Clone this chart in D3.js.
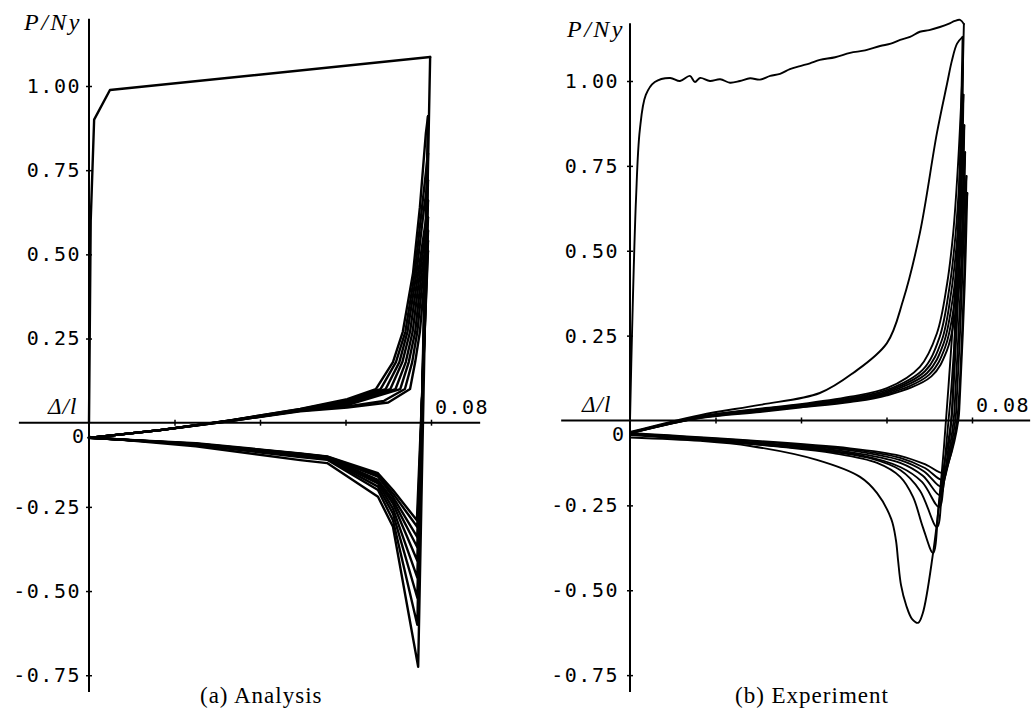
<!DOCTYPE html>
<html><head><meta charset="utf-8">
<script src="https://cdn.jsdelivr.net/npm/d3@7"></script>
<style>
html,body{margin:0;padding:0;background:#fff;}
svg{display:block;}
.tick text{font-family:"DejaVu Sans Mono",monospace;font-size:20px;letter-spacing:1.5px;fill:#000;}
</style></head>
<body>
<svg id="chart" width="1036" height="713"></svg>
<script>
// ---------- DATA ----------
const yTickValues = [1, 0.75, 0.5, 0.25, -0.25, -0.5, -0.75];
const xTickValues = [0.02, 0.04, 0.06, 0.08];
const xEndLabel = "0.08";
const panelTitles = ["(a) Analysis", "(b) Experiment"];

// Analysis: monotonic skeleton, compression branches (from tension peak down and back), tension reloads
const analysisSkeleton = [[0,0],[0.0004,0.6],[0.0012,0.9],[0.0049,0.988],[0.0798,1.086]];
const analysisCompression = [
  [[0.0798,1.086],[0.0770,-0.725],[0.0711,-0.309],[0.0676,-0.22],[0.0557,-0.12],[0.0494,-0.111],[0.025,-0.07],[0,-0.042]],
  [[0.0793,0.91],[0.0768,-0.60],[0.0711,-0.29],[0.0676,-0.20],[0.0557,-0.11],[0.0494,-0.102],[0.025,-0.066],[0,-0.043]],
  [[0.0793,0.80],[0.0768,-0.52],[0.0711,-0.27],[0.0676,-0.19],[0.0557,-0.108],[0.0494,-0.099],[0.025,-0.065],[0,-0.044]],
  [[0.0793,0.72],[0.0768,-0.46],[0.0711,-0.255],[0.0676,-0.18],[0.0557,-0.106],[0.0494,-0.097],[0.025,-0.064],[0,-0.044]],
  [[0.0793,0.66],[0.0768,-0.41],[0.0711,-0.24],[0.0676,-0.175],[0.0557,-0.104],[0.0494,-0.095],[0.025,-0.063],[0,-0.045]],
  [[0.0793,0.61],[0.0768,-0.37],[0.0711,-0.23],[0.0676,-0.17],[0.0557,-0.103],[0.0494,-0.094],[0.025,-0.063],[0,-0.045]],
  [[0.0793,0.57],[0.0768,-0.34],[0.0711,-0.22],[0.0676,-0.16],[0.0557,-0.102],[0.0494,-0.093],[0.025,-0.062],[0,-0.045]],
  [[0.0793,0.54],[0.0768,-0.31],[0.0711,-0.21],[0.0676,-0.155],[0.0557,-0.101],[0.0494,-0.092],[0.025,-0.062],[0,-0.045]],
  [[0.0793,0.51],[0.0767,-0.29],[0.0711,-0.20],[0.0676,-0.15],[0.0557,-0.10],[0.0494,-0.091],[0.025,-0.061],[0,-0.045]]
];
const analysisTension = [
  [[0,-0.045],[0.0166,-0.022],[0.033,0.007],[0.0494,0.041],[0.0604,0.070],[0.0671,0.10],[0.0711,0.18],[0.0734,0.27],[0.0758,0.445],[0.0774,0.64],[0.0788,0.86],[0.0793,0.91]],
  [[0,-0.045],[0.0166,-0.022],[0.033,0.007],[0.0494,0.040],[0.0604,0.066],[0.0682,0.10],[0.0718,0.18],[0.0740,0.27],[0.0762,0.445],[0.0779,0.64],[0.0793,0.80]],
  [[0,-0.045],[0.0166,-0.022],[0.033,0.006],[0.0494,0.039],[0.0604,0.063],[0.0694,0.10],[0.0726,0.18],[0.0745,0.27],[0.0766,0.445],[0.0784,0.64],[0.0793,0.72]],
  [[0,-0.045],[0.0166,-0.022],[0.033,0.006],[0.0494,0.038],[0.0604,0.060],[0.0705,0.10],[0.0733,0.18],[0.0751,0.27],[0.0770,0.445],[0.0789,0.61],[0.0793,0.66]],
  [[0,-0.045],[0.0166,-0.022],[0.033,0.006],[0.0494,0.037],[0.0604,0.056],[0.0717,0.10],[0.0741,0.18],[0.0757,0.27],[0.0774,0.445],[0.0793,0.61]],
  [[0,-0.045],[0.0166,-0.022],[0.033,0.005],[0.0494,0.036],[0.0604,0.052],[0.0728,0.10],[0.0748,0.18],[0.0763,0.27],[0.0778,0.445],[0.0793,0.57]],
  [[0,-0.045],[0.0166,-0.022],[0.033,0.005],[0.0494,0.035],[0.0604,0.048],[0.0690,0.065],[0.0739,0.10],[0.0756,0.18],[0.0768,0.27],[0.0782,0.445],[0.0793,0.54]],
  [[0,-0.045],[0.0166,-0.022],[0.033,0.005],[0.0494,0.034],[0.0604,0.045],[0.0700,0.060],[0.0751,0.10],[0.0763,0.18],[0.0774,0.27],[0.0786,0.445],[0.0793,0.51]]
];

// Experiment
const experimentSkeleton = [[0,0],[0.0005,0.27],[0.0014,0.65],[0.0023,0.856],[0.0037,0.959],[0.0058,0.997],[0.0094,1.009],[0.0117,1.0],[0.014,1.015],[0.0152,0.997],[0.0164,1.009],[0.0187,1.0],[0.0211,1.005],[0.0234,0.995],[0.0257,1.0],[0.0281,1.008],[0.0304,1.004],[0.0328,1.015],[0.0351,1.021],[0.0374,1.035],[0.0398,1.044],[0.0421,1.052],[0.0444,1.062],[0.048,1.07],[0.0515,1.083],[0.055,1.09],[0.0585,1.103],[0.061,1.11],[0.0632,1.121],[0.0655,1.13],[0.0678,1.145],[0.07,1.15],[0.0725,1.159],[0.0745,1.168],[0.076,1.177],[0.0772,1.18],[0.0781,1.168]];
const experimentCompression = [
  [[0.0781,1.168],[0.0772,0.7],[0.0762,0.35],[0.0751,0],[0.0732,-0.155],[0.0709,-0.39],[0.0685,-0.567],[0.0674,-0.596],[0.066,-0.585],[0.0646,-0.544],[0.0634,-0.485],[0.0627,-0.411],[0.0622,-0.352],[0.0611,-0.29],[0.0578,-0.214],[0.0538,-0.166],[0.0437,-0.116],[0.0281,-0.075],[0.0164,-0.06],[0,-0.05]],
  [[0.0778,1.13],[0.0765,0.5],[0.0745,0.1],[0.0733,-0.1],[0.0722,-0.25],[0.0709,-0.39],[0.0685,-0.314],[0.0662,-0.225],[0.0632,-0.166],[0.0578,-0.125],[0.0475,-0.096],[0.0358,-0.078],[0.0164,-0.057],[0,-0.043]],
  [[0.0779,1.06],[0.0770,0.5],[0.0752,0.1],[0.0745,0],[0.0730,-0.2],[0.0718,-0.314],[0.0678,-0.206],[0.0632,-0.146],[0.0561,-0.111],[0.0444,-0.087],[0.0281,-0.069],[0,-0.04]],
  [[0.0780,0.96],[0.0772,0.5],[0.0757,0.1],[0.0752,0],[0.0735,-0.17],[0.0723,-0.255],[0.0683,-0.181],[0.0632,-0.137],[0.0538,-0.102],[0.0398,-0.081],[0.02,-0.06],[0,-0.04]],
  [[0.0782,0.87],[0.0775,0.45],[0.0761,0.08],[0.0757,0],[0.0738,-0.15],[0.0725,-0.22],[0.0685,-0.163],[0.0632,-0.125],[0.0515,-0.093],[0.0358,-0.074],[0,-0.04]],
  [[0.0784,0.79],[0.0778,0.45],[0.0765,0.08],[0.0761,0],[0.0741,-0.14],[0.0728,-0.195],[0.0688,-0.15],[0.0632,-0.117],[0.0515,-0.088],[0.0358,-0.071],[0,-0.038]],
  [[0.0787,0.72],[0.0781,0.4],[0.0769,0.06],[0.0765,0],[0.0744,-0.13],[0.0731,-0.175],[0.069,-0.14],[0.0632,-0.11],[0.0515,-0.085],[0,-0.038]],
  [[0.0789,0.67],[0.0783,0.4],[0.0771,0.05],[0.0768,0],[0.0746,-0.12],[0.0734,-0.155],[0.0692,-0.13],[0.0632,-0.104],[0.0515,-0.082],[0,-0.037]]
];
const experimentTension = [
  [[0,-0.034],[0.0164,0.016],[0.0304,0.046],[0.0444,0.081],[0.0522,0.14],[0.0601,0.228],[0.0639,0.355],[0.0678,0.552],[0.0718,0.847],[0.0742,0.994],[0.0753,1.06],[0.0765,1.11],[0.0778,1.13]],
  [[0,-0.036],[0.0164,0.012],[0.0304,0.035],[0.0398,0.048],[0.0515,0.07],[0.0601,0.095],[0.0678,0.158],[0.0718,0.257],[0.0742,0.405],[0.0756,0.552],[0.0767,0.747],[0.0775,0.944],[0.0779,1.06]],
  [[0,-0.036],[0.0164,0.011],[0.0304,0.033],[0.0398,0.046],[0.0515,0.066],[0.0601,0.09],[0.0685,0.15],[0.0724,0.245],[0.0747,0.39],[0.0761,0.54],[0.0771,0.72],[0.0780,0.96]],
  [[0,-0.037],[0.0164,0.010],[0.0304,0.031],[0.0398,0.044],[0.0515,0.063],[0.0601,0.086],[0.0690,0.145],[0.0729,0.235],[0.0751,0.375],[0.0765,0.53],[0.0775,0.70],[0.0782,0.87]],
  [[0,-0.037],[0.0164,0.009],[0.0304,0.029],[0.0398,0.042],[0.0515,0.06],[0.0601,0.082],[0.0695,0.14],[0.0733,0.225],[0.0755,0.36],[0.0769,0.52],[0.0778,0.67],[0.0784,0.79]],
  [[0,-0.038],[0.0164,0.008],[0.0304,0.027],[0.0398,0.04],[0.0515,0.057],[0.0601,0.078],[0.0700,0.135],[0.0737,0.215],[0.0759,0.345],[0.0773,0.50],[0.0782,0.64],[0.0787,0.72]],
  [[0,-0.038],[0.0164,0.007],[0.0304,0.025],[0.0398,0.038],[0.0515,0.054],[0.0601,0.074],[0.0705,0.13],[0.0741,0.205],[0.0763,0.33],[0.0777,0.48],[0.0785,0.60],[0.0789,0.67]]
];

// ---------- DRAW ----------
const svg = d3.select("#chart");
const panels = [
  {xr:[89,431], yr:[422.7,86], yMin:-0.8, yMax:1.2, xMin:-0.0164, xMax:0.0915, sk:analysisSkeleton, comp:analysisCompression, ten:analysisTension,
   curve:d3.curveLinear, lw:2.4, title:panelTitles[0], titleX:200, pnX:24, pnY:30, dlX:48, zeroX:72, labEnd:-5},
  {xr:[630,972], yr:[420.5,81], yMin:-0.8, yMax:1.17, xMin:-0.0161, xMax:0.0936, sk:experimentSkeleton, comp:experimentCompression, ten:experimentTension,
   curve:d3.curveCatmullRom.alpha(0.5), lw:1.9, title:panelTitles[1], titleX:735, pnX:567, pnY:37, dlX:582, zeroX:612, labEnd:-8}
];

const fmt = d => d3.format(".2f")(d).replace("\u2212","-");

panels.forEach(p => {
  const x = d3.scaleLinear().domain([0,0.08]).range(p.xr);
  const y = d3.scaleLinear().domain([0,1]).range(p.yr);
  const g = svg.append("g");

  // axis lines
  g.append("line").attr("x1",x(0)).attr("x2",x(0)).attr("y1",y(p.yMax)).attr("y2",y(p.yMin))
    .attr("stroke","#000").attr("stroke-width",2);
  g.append("line").attr("x1",x(p.xMin)).attr("x2",x(p.xMax)).attr("y1",y(0)).attr("y2",y(0))
    .attr("stroke","#000").attr("stroke-width",2);

  // y ticks with labels
  const ay = g.append("g").attr("transform",`translate(${x(0)},0)`)
    .call(d3.axisLeft(y).tickValues(yTickValues).tickSize(3).tickPadding(-p.labEnd).tickFormat(fmt));
  ay.select(".domain").remove();
  ay.selectAll(".tick line").attr("stroke","#000").attr("stroke-width",1.5);
  const ay2 = g.append("g").attr("transform",`translate(${x(0)},0)`)
    .call(d3.axisRight(y).tickValues(yTickValues).tickSize(3).tickFormat(""));
  ay2.select(".domain").remove();
  ay2.selectAll(".tick line").attr("stroke","#000").attr("stroke-width",1.5);

  // x ticks
  [d3.axisBottom, d3.axisTop].forEach(fn => {
    const ax = g.append("g").attr("transform",`translate(0,${y(0)})`)
      .call(fn(x).tickValues(xTickValues).tickSize(3).tickFormat(""));
    ax.select(".domain").remove();
    ax.selectAll(".tick line").attr("stroke","#000").attr("stroke-width",1.5);
  });

  // curves
  const line = d3.line().x(d=>x(d[0])).y(d=>y(d[1])).curve(p.curve);
  const all = [p.sk].concat(p.comp, p.ten);
  g.selectAll("path.curve").data(all).join("path").attr("class","curve")
    .attr("d",line).attr("fill","none").attr("stroke","#000")
    .attr("stroke-width",p.lw).attr("stroke-linejoin","round").attr("stroke-linecap","round");

  // labels
  g.append("text").attr("x",x(0.08)+4).attr("y",y(0)-9)
    .attr("font-family","DejaVu Sans Mono").attr("font-size",20).attr("letter-spacing","1.5px")
    .text(xEndLabel);
  g.append("text").attr("x",p.zeroX).attr("y",y(0)+20)
    .attr("font-family","DejaVu Sans Mono").attr("font-size",20).text("0");
  g.append("text").attr("x",p.pnX).attr("y",p.pnY)
    .attr("font-family","Liberation Serif").attr("font-style","italic").attr("font-size",24).attr("letter-spacing","2.5px")
    .text("P/Ny");
  g.append("text").attr("x",p.dlX).attr("y",y(0)-9)
    .attr("font-family","Liberation Serif").attr("font-style","italic").attr("font-size",23).attr("letter-spacing","1px")
    .text("Δ/l");
  g.append("text").attr("x",p.titleX).attr("y",703)
    .attr("font-family","Liberation Serif").attr("font-size",23).attr("letter-spacing","1px")
    .text(p.title);
});
</script>
</body></html>
